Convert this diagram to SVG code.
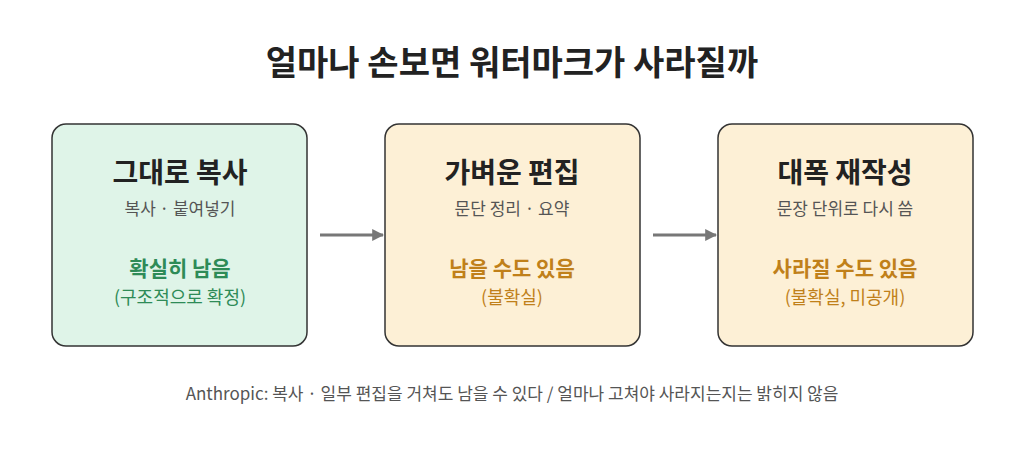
<svg xmlns="http://www.w3.org/2000/svg" width="1024" height="449" viewBox="0 0 1024 449">
<style>
text{font-family:"Noto Sans CJK KR","Noto Sans",sans-serif;text-anchor:middle}
.box{stroke:#333;stroke-width:1.5}
.h{font-size:28px;font-weight:700;fill:#222}
.s{font-size:17px;fill:#555}
.r{font-size:21px;font-weight:700}
.p{font-size:18px}
.g{fill:#2e8b57}.o{fill:#c0801a}
</style>
<defs><marker id="a" viewBox="0 0 10 10" refX="9" refY="5" markerWidth="4" markerHeight="4" orient="auto"><path d="M0,0L10,5L0,10z" fill="#777"/></marker></defs>
<rect width="1024" height="449" fill="#fff"/>
<text x="512" y="75" font-size="34" font-weight="700" fill="#222">얼마나 손보면 워터마크가 사라질까</text>
<g id="n1"><rect class="box" x="52" y="124" width="255" height="222" rx="14" fill="#dff4e8"/>
<text class="h" x="180" y="183">그대로 복사</text><text class="s" x="180" y="215">복사 · 붙여넣기</text>
<text class="r g" x="180" y="276">확실히 남음</text><text class="p g" x="180" y="304">(구조적으로 확정)</text></g>
<g id="n2"><rect class="box" x="385" y="124" width="255" height="222" rx="14" fill="#fdf0d6"/>
<text class="h" x="512" y="183">가벼운 편집</text><text class="s" x="512" y="215">문단 정리 · 요약</text>
<text class="r o" x="512" y="276">남을 수도 있음</text><text class="p o" x="512" y="304">(불확실)</text></g>
<g id="n3"><rect class="box" x="718" y="124" width="255" height="222" rx="14" fill="#fdf0d6"/>
<text class="h" x="845" y="183">대폭 재작성</text><text class="s" x="845" y="215">문장 단위로 다시 씀</text>
<text class="r o" x="845" y="276">사라질 수도 있음</text><text class="p o" x="845" y="304">(불확실, 미공개)</text></g>
<g id="connectors" stroke="#777" stroke-width="3" marker-end="url(#a)">
<line x1="320" y1="235" x2="383" y2="235"/><line x1="653" y1="235" x2="716" y2="235"/></g>
<text x="512" y="400" font-size="17" fill="#555">Anthropic: 복사 · 일부 편집을 거쳐도 남을 수 있다 / 얼마나 고쳐야 사라지는지는 밝히지 않음</text>
</svg>
